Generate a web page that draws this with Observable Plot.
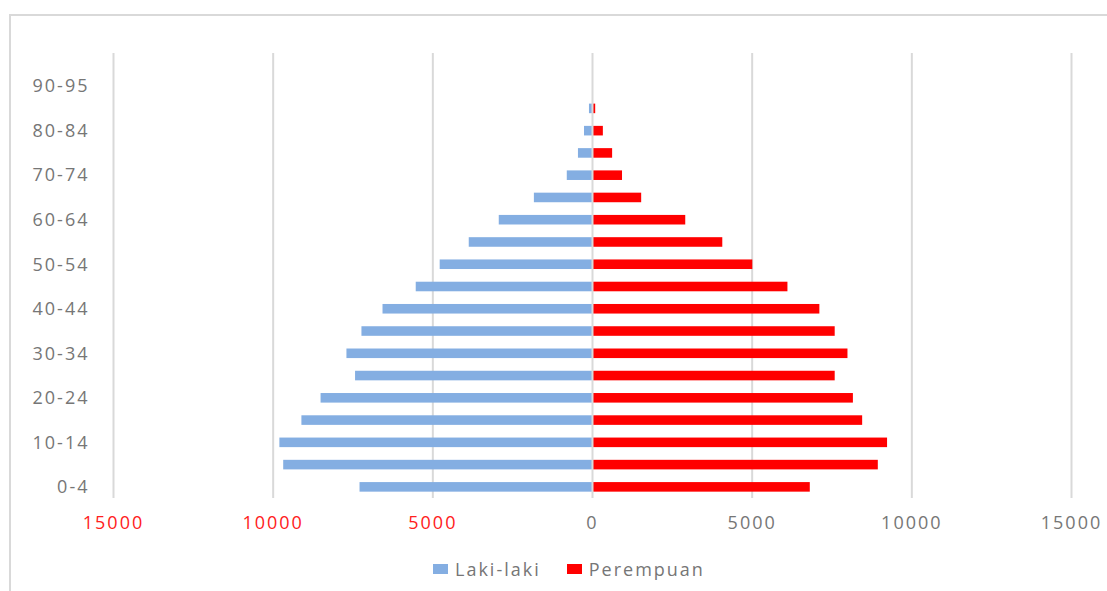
<!DOCTYPE html>
<html>
<head>
<meta charset="utf-8">
<script src="https://cdn.jsdelivr.net/npm/d3@7"></script>
<script src="https://cdn.jsdelivr.net/npm/@observablehq/plot@0.6"></script>
<style>
  html, body { margin: 0; padding: 0; background: #fff; }
  #wrap { position: relative; width: 1107px; height: 591px; overflow: hidden; font-family: "Open Sans", sans-serif; }
  #frame { position: absolute; left: 9px; top: 14px; width: 1200px; height: 700px; border: 2px solid #d9d9d9; box-sizing: border-box; pointer-events: none; }
  #chart { position: absolute; left: 0; top: 0; }
  #chart svg text { letter-spacing: 2px; }
  #legend { position: absolute; top: 557px; left: 433px; display: flex; align-items: center; font-size: 18px; color: #767676; letter-spacing: 2px; line-height: 24px; }
  .sw { display: inline-block; width: 15px; height: 10px; margin-right: 7px; }
</style>
</head>
<body>
<div id="wrap">
  <div id="chart"></div>
  <div id="legend">
    <span class="sw" style="background:#84AEE2"></span><span>Laki-laki</span>
    <span class="sw" style="background:#ff0000; margin-left:26px"></span><span>Perempuan</span>
  </div>
  <div id="frame"></div>
</div>
<script>
const ages = ["0-4","5-9","10-14","15-19","20-24","25-29","30-34","35-39","40-44","45-49","50-54","55-59","60-64","65-69","70-74","75-79","80-84","85-89","90-95"];
const lakiLaki = [7280, 9670, 9790, 9100, 8500, 7420, 7690, 7220, 6560, 5520, 4770, 3860, 2920, 1820, 790, 440, 250, 95, 0];
const perempuan = [6820, 8950, 9240, 8460, 8170, 7600, 8000, 7600, 7120, 6120, 5020, 4080, 2920, 1540, 940, 630, 340, 100, 0];
const shownLabels = ["0-4","10-14","20-24","30-34","40-44","50-54","60-64","70-74","80-84","90-95"];
const negTicks = [-15000, -10000, -5000];
const posTicks = [0, 5000, 10000, 15000];

const male = ages.map((a, i) => ({age: a, value: -lakiLaki[i]}));
const female = ages.map((a, i) => ({age: a, value: perempuan[i]}));

const chart = Plot.plot({
  width: 1107,
  height: 545,
  marginTop: 53,
  marginBottom: 47,
  marginLeft: 113,
  marginRight: 36,
  style: {fontFamily: "Open Sans", fontSize: "18px", background: "transparent"},
  x: {domain: [-15000, 15000], axis: null},
  y: {domain: ages.slice().reverse(), range: [75, 498], paddingInner: 0.57, paddingOuter: 0.285, round: false, axis: null},
  marks: [
    Plot.ruleX([...negTicks, ...posTicks.slice(1)], {stroke: "#d9d9d9", strokeWidth: 2}),
    Plot.barX(male, {x: "value", y: "age", fill: "#84AEE2"}),
    Plot.barX(female, {x: "value", y: "age", fill: "#ff0000"}),
    Plot.ruleX([0], {stroke: "#d9d9d9", strokeWidth: 2}),
    Plot.axisX({ticks: negTicks, tickSize: 0, tickPadding: 18, tickFormat: d => String(Math.abs(d)), fill: "#ff2020", fontSize: 18, label: null}),
    Plot.axisX({ticks: posTicks, tickSize: 0, tickPadding: 18, tickFormat: d => String(Math.abs(d)), fill: "#767676", fontSize: 18, label: null}),
    Plot.axisY({ticks: shownLabels, tickSize: 0, tickPadding: 24, fill: "#767676", fontSize: 18, label: null})
  ]
});
document.getElementById("chart").appendChild(chart);
</script>
</body>
</html>
